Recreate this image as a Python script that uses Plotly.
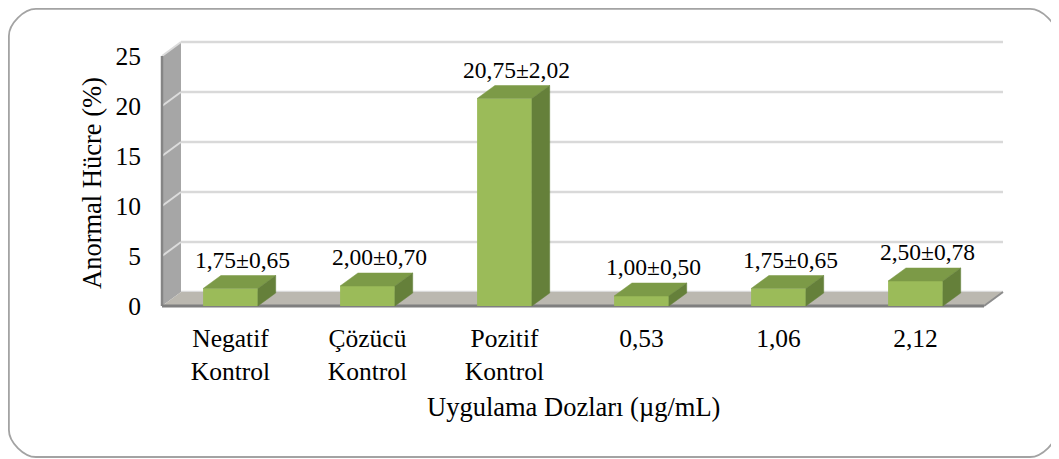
import plotly.graph_objects as go

# ---------------- data ----------------
categories = ["Negatif<br>Kontrol", "Çözücü<br>Kontrol", "Pozitif<br>Kontrol", "0,53", "1,06", "2,12"]
means = [1.75, 2.00, 20.75, 1.00, 1.75, 2.50]
sds = [0.65, 0.70, 2.02, 0.50, 0.65, 0.78]
y_ticks = [0, 5, 10, 15, 20, 25]
x_title = "Uygulama Dozları (µg/mL)"
y_title = "Anormal Hücre (%)"

# ---------------- geometry / style ----------------
OFF = 8                        # page body margin of the browser
W, H = 1059 - OFF, 459 - OFF   # figure size
FONT = "Liberation Serif"
FS_TICK, FS_TITLE, FS_LABEL = 25.5, 26.5, 23.5
X0_PX, STEP_PX = 162 - OFF, 137   # front-plane left edge, category pitch (px)
Y0_PX, UNIT_PX = 306 - OFF, 10    # front-plane zero, px per unit
x_range = [(0 - X0_PX) / STEP_PX - 0.5, (W - X0_PX) / STEP_PX - 0.5]
y_range = [(Y0_PX - H) / UNIT_PX, Y0_PX / UNIT_PX]
DX, DY = 19 / STEP_PX, 1.4      # wall depth offset in data units
BW = 0.4                       # bar width
BDX, BDY = 0.13, 1.3           # bar depth offset
YMAX = y_ticks[-1]
n = len(categories)
xs = list(range(n))
xl, xr = -0.5, n - 0.5

C_FRONT = "#9bbb59"
C_TOP = "#7c9a47"
C_SIDE = "#65803a"

labels = [f"{m:.2f}±{s:.2f}".replace(".", ",") for m, s in zip(means, sds)]

fig = go.Figure()

# bar front faces
fig.add_trace(go.Bar(x=xs, y=means, width=BW, marker=dict(color=C_FRONT, line=dict(width=0)),
                     hoverinfo="skip", showlegend=False))

# bar top and side faces
tx, ty, sx, sy = [], [], [], []
for x, m in zip(xs, means):
    a, b = x - BW / 2, x + BW / 2
    tx += [a, b, b + BDX, a + BDX, a, None]
    ty += [m, m, m + BDY, m + BDY, m, None]
    sx += [b, b, b + BDX, b + BDX, b, None]
    sy += [0, m, m + BDY, BDY, 0, None]
fig.add_trace(go.Scatter(x=tx, y=ty, mode="lines", fill="toself", fillcolor=C_TOP,
                         line=dict(width=0.5, color=C_TOP), hoverinfo="skip", showlegend=False))
fig.add_trace(go.Scatter(x=sx, y=sy, mode="lines", fill="toself", fillcolor=C_SIDE,
                         line=dict(width=0.5, color=C_SIDE), hoverinfo="skip", showlegend=False))

# data labels
fig.add_trace(go.Scatter(x=[x + 0.088 for x in xs], y=[m + 2.65 for m in means], mode="text",
                         text=labels, textposition="middle center",
                         textfont=dict(family=FONT, size=FS_LABEL, color="black"),
                         hoverinfo="skip", showlegend=False))

shapes = []
# back wall gridlines
for v in y_ticks:
    shapes.append(dict(type="line", xref="x", yref="y", layer="below",
                       x0=xl + DX, x1=xr + DX, y0=v + DY, y1=v + DY,
                       line=dict(color="#d9d9d9", width=2.5)))
# left side wall
shapes.append(dict(type="path", xref="x", yref="y", layer="below",
                   path=f"M{xl},0 L{xl},{YMAX} L{xl + DX},{YMAX + DY} L{xl + DX},{DY} Z",
                   fillcolor="#a6a6a6", line=dict(width=0)))
for v in y_ticks[1:]:
    shapes.append(dict(type="line", xref="x", yref="y", layer="below",
                       x0=xl, x1=xl + DX, y0=v, y1=v + DY,
                       line=dict(color="#dcdcdc", width=2)))
shapes.append(dict(type="line", xref="x", yref="y", layer="below",
                   x0=xl, x1=xl, y0=0, y1=YMAX, line=dict(color="#858585", width=2.5)))
# floor
shapes.append(dict(type="path", xref="x", yref="y", layer="below",
                   path=f"M{xl},0 L{xr},0 L{xr + DX},{DY} L{xl + DX},{DY} Z",
                   fillcolor="#bbb8b0", line=dict(width=0)))
shapes.append(dict(type="line", xref="x", yref="y", layer="below",
                   x0=xl, x1=xr, y0=0, y1=0, line=dict(color="#7f7f7f", width=3)))
shapes.append(dict(type="line", xref="x", yref="y", layer="below",
                   x0=xr, x1=xr + DX, y0=0, y1=DY, line=dict(color="#8c8c8c", width=2)))

# rounded outer border (paper coords)
def P(px, py):
    return f"{px / W:.5f},{1 - py / H:.5f}"
L_, T_, R_, B_, r = 0.9, 0.9, 1057 - OFF, 457 - OFF, 27
k = 0.45 * r
border = (f"M{P(L_ + r, T_)} L{P(R_ - r, T_)} C{P(R_ - r + k, T_)} {P(R_, T_ + r - k)} {P(R_, T_ + r)} "
          f"L{P(R_, B_ - r)} C{P(R_, B_ - r + k)} {P(R_ - r + k, B_)} {P(R_ - r, B_)} "
          f"L{P(L_ + r, B_)} C{P(L_ + r - k, B_)} {P(L_, B_ - r + k)} {P(L_, B_ - r)} "
          f"L{P(L_, T_ + r)} C{P(L_, T_ + r - k)} {P(L_ + r - k, T_)} {P(L_ + r, T_)} Z")
shapes.append(dict(type="path", xref="paper", yref="paper", layer="above", path=border,
                   line=dict(color="#a3a3a3", width=1.8)))

fig.update_layout(
    width=W, height=H,
    margin=dict(l=0, r=0, t=0, b=0),
    paper_bgcolor="white", plot_bgcolor="white",
    font=dict(family=FONT, size=FS_TICK, color="black"),
    showlegend=False,
    shapes=shapes,
    xaxis=dict(range=x_range, domain=[0, 1], tickvals=xs, ticktext=categories,
               showgrid=False, zeroline=False, showline=False, ticks="",
               anchor="free", position=1 - (320 - OFF) / H,
               tickfont=dict(family=FONT, size=FS_TICK, color="black")),
    yaxis=dict(range=y_range, domain=[0, 1], tickvals=y_ticks,
               showgrid=False, zeroline=False, showline=False, ticks="",
               anchor="free", position=(141 - OFF) / W,
               tickfont=dict(family=FONT, size=FS_TICK, color="black")),
    annotations=[
        dict(text=x_title, xref="paper", yref="paper", x=(573 - OFF) / W, y=1 - (407 - OFF) / H,
             xanchor="center", yanchor="middle",
             showarrow=False, font=dict(family=FONT, size=FS_TITLE, color="black")),
        dict(text=y_title, xref="paper", yref="paper", x=(92 - OFF) / W, y=1 - (183 - OFF) / H,
             xanchor="center", yanchor="middle",
             showarrow=False, textangle=-90, font=dict(family=FONT, size=FS_TITLE, color="black")),
    ],
)

fig.write_html("out.html")
